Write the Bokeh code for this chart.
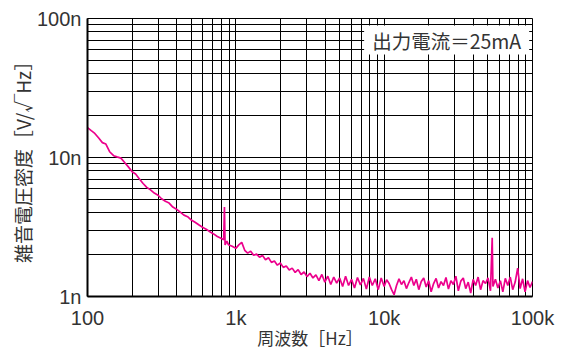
from bokeh.plotting import figure
from bokeh.models import Range1d, FixedTicker, Label
from bokeh.embed import file_html
from bokeh.resources import INLINE

# Frequency [Hz]
freq = [
    100, 106, 112, 119, 126, 133, 141, 150, 158, 168, 178, 188, 200, 211, 224, 237,
    251, 266, 282, 299, 316, 335, 355, 376, 398, 422, 447, 473, 501, 531, 562, 596,
    631, 668, 708, 750, 794, 828, 838, 846, 870, 891, 944,
    1000, 1047, 1096, 1148, 1202, 1259, 1318, 1380, 1445, 1514, 1585, 1660, 1738,
    1820, 1905, 1995, 2089, 2188, 2291, 2399, 2512, 2630, 2754, 2884, 3020, 3162,
    3311, 3467, 3631, 3802, 3981, 4169, 4365, 4571, 4786, 5012, 5248, 5495, 5754,
    6026, 6310, 6607, 6918, 7244, 7586, 7943, 8318, 8710, 9120, 9550,
    10000, 10391, 10798, 11220, 11659, 12115, 12589, 13082, 13594, 14125, 14678,
    15252, 15849, 16469, 17113, 17783, 18478, 19201, 19953, 20734, 21544, 22387,
    23263, 24174, 25119, 26102, 27123, 28184, 29286, 30433, 31623, 32860, 34145,
    35481, 36869, 38312, 39811, 41369, 42987, 44668, 46416, 48232, 50119, 52080,
    53500, 54117, 56234, 58434, 60723, 63096, 65566, 68129, 70795, 73564, 76444,
    79433, 82540, 85770, 89125, 92611, 96236, 100000,
]

# Noise voltage density [nV/sqrt(Hz)]
noise_nv = [
    16.4, 15.6, 14.9, 13.8, 12.8, 12.5, 11.0, 10.3, 10.1, 9.9, 9.2, 8.6, 7.9, 7.6,
    7.0, 6.5, 6.1, 5.85, 5.55, 5.35, 5.05, 4.85, 4.7, 4.4, 4.25, 4.05, 3.85, 3.75,
    3.55, 3.42, 3.28, 3.15, 3.05, 2.92, 2.82, 2.7, 2.62, 2.56, 4.4, 2.35, 2.5,
    2.36, 2.3,
    2.22, 2.35, 2.45, 2.15, 2.05, 2.12, 1.98, 2.02, 1.92, 1.97, 1.84, 1.9, 1.76,
    1.8, 1.68, 1.74, 1.62, 1.66, 1.55, 1.6, 1.49, 1.56, 1.44, 1.5, 1.39, 1.47,
    1.36, 1.43, 1.3, 1.44, 1.27, 1.4, 1.22, 1.38, 1.25, 1.36, 1.18, 1.4, 1.2,
    1.33, 1.15, 1.37, 1.21, 1.35, 1.13, 1.38, 1.2, 1.34, 1.12, 1.36,
    1.18, 1.32, 1.24, 1.12, 1.03, 1.2, 1.34, 1.22, 1.3, 1.14, 1.26,
    1.38, 1.2, 1.33, 1.12, 1.28, 1.36, 1.17, 1.3, 1.08, 1.24, 1.35,
    1.15, 1.28, 1.2, 1.37, 1.13, 1.3, 1.22, 1.4, 1.1, 1.29, 1.36,
    1.14, 1.27, 1.06, 1.33, 1.2, 1.38, 1.12, 1.3, 1.24, 1.36, 1.1,
    2.65, 1.18, 1.33, 1.15, 1.3, 1.08, 1.35, 1.2, 1.38, 1.12, 1.27,
    1.6, 1.14, 1.34, 1.08, 1.3, 1.16, 1.28,
]

x_ticks = [100, 1000, 10000, 100000]
x_labels = ["100", "1k", "10k", "100k"]
y_ticks = [1, 10, 100]
y_labels = ["1n", "10n", "100n"]

CJK = "Noto Sans CJK JP"
NUM = "Liberation Sans"
TXT = "#333333"

p = figure(
    width=565, height=352,
    x_axis_type="log", y_axis_type="log",
    x_range=Range1d(100, 100000), y_range=Range1d(1, 100),
    output_backend="svg", toolbar_location=None,
    min_border_left=87, min_border_right=33, min_border_top=18, min_border_bottom=54,
    background_fill_color="white", border_fill_color="white",
)

x_minor = [m * d for d in x_ticks[:-1] for m in range(2, 10)]
y_minor = [m * d for d in y_ticks[:-1] for m in range(2, 10)]
p.xaxis.ticker = FixedTicker(ticks=x_ticks, minor_ticks=x_minor)
p.yaxis.ticker = FixedTicker(ticks=y_ticks, minor_ticks=y_minor)
p.xaxis.major_label_overrides = {t: l for t, l in zip(x_ticks, x_labels)}
p.yaxis.major_label_overrides = {t: l for t, l in zip(y_ticks, y_labels)}

for g in (p.xgrid, p.ygrid):
    g.grid_line_color = "black"
    g.grid_line_width = 1
    g.minor_grid_line_color = "black"
    g.minor_grid_line_width = 1

for ax in (p.xaxis, p.yaxis):
    ax.axis_line_color = "black"
    ax.axis_line_width = 2
    ax.major_tick_line_color = None
    ax.minor_tick_line_color = None
    ax.major_tick_out = 0
    ax.major_tick_in = 0
    ax.minor_tick_out = 0
    ax.minor_tick_in = 0
    ax.major_label_text_font = NUM
    ax.major_label_text_font_size = "20px"
    ax.major_label_text_color = TXT
    ax.axis_label_text_font = CJK
    ax.axis_label_text_font_style = "normal"
    ax.axis_label_text_color = TXT

p.xaxis.axis_label = "周波数［Hz］"
p.yaxis.axis_label = "雑音電圧密度［V/√Hz］"
p.xaxis.axis_label_text_font_size = "17px"
p.yaxis.axis_label_text_font_size = "19px"
p.xaxis.major_label_standoff = 10
p.yaxis.major_label_standoff = 6
p.xaxis.axis_label_standoff = -7
p.yaxis.axis_label_standoff = -2

p.outline_line_color = "black"
p.outline_line_width = 1

p.line(freq, noise_nv, line_color="#EC008C", line_width=1.7)

p.add_layout(Label(
    x=95000, y=70, text="出力電流＝25mA", text_align="right", text_baseline="middle",
    text_font=CJK, text_font_size="19.5px", text_color=TXT,
    background_fill_color="white", padding=(8, 0),
))

open("out.html", "w").write(file_html(p, INLINE))
